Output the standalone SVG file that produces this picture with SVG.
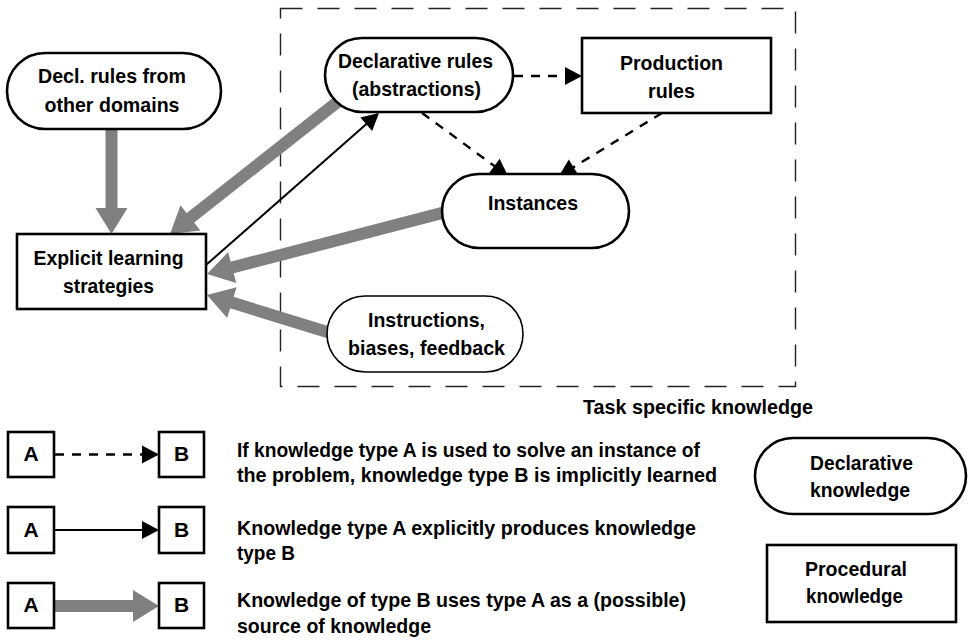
<svg xmlns="http://www.w3.org/2000/svg" width="968" height="640" viewBox="0 0 968 640">
<style>
  text{font-family:"Liberation Sans",Arial,sans-serif;font-weight:bold;font-size:21px;fill:#000;text-anchor:middle}
  .lt{text-anchor:start}
  .node{fill:#fff;stroke:#000;stroke-width:2.6}
  .thin{fill:#fff;stroke:#000;stroke-width:1.6}
  .frame{fill:none;stroke:#222;stroke-width:1.4;stroke-dasharray:22,15}
  .gray{fill:none;stroke:#808080;stroke-width:12}
  .solid{fill:none;stroke:#000;stroke-width:2}
  .dash{fill:none;stroke:#000;stroke-width:2.4;stroke-dasharray:9,8}
</style>
<defs>
  <marker id="gh" markerUnits="userSpaceOnUse" markerWidth="26" markerHeight="32" refX="12" refY="16" orient="auto" overflow="visible">
    <path d="M0,0 L26,16 L0,32 z" fill="#808080"/>
  </marker>
  <marker id="bh" markerUnits="userSpaceOnUse" markerWidth="17" markerHeight="18" refX="15" refY="9" orient="auto" overflow="visible">
    <path d="M0,0 L17,9 L0,18 z" fill="#000"/>
  </marker>
</defs>
<rect width="968" height="640" fill="#fff"/>

<rect id="task-frame" class="frame" x="280.5" y="8.5" width="515" height="378"/>
<text x="698" y="414" textLength="230" lengthAdjust="spacingAndGlyphs">Task specific knowledge</text>

<g id="connectors">
  <line class="gray" x1="111.5" y1="130" x2="111.5" y2="220" marker-end="url(#gh)"/>
  <line class="gray" x1="345" y1="96" x2="181" y2="225.3" marker-end="url(#gh)"/>
  <line class="gray" x1="452" y1="210.4" x2="220.6" y2="270.5" marker-end="url(#gh)"/>
  <line class="gray" x1="337" y1="335" x2="220.4" y2="299.1" marker-end="url(#gh)"/>
  <line class="solid" x1="206" y1="265" x2="377.5" y2="114.3" marker-end="url(#bh)"/>
  <line class="dash" x1="514" y1="76" x2="580" y2="76" marker-end="url(#bh)"/>
  <line class="dash" x1="422" y1="113" x2="506.4" y2="174.8" marker-end="url(#bh)"/>
  <line class="dash" x1="662" y1="113" x2="560.7" y2="175" marker-end="url(#bh)"/>
</g>

<g id="decl-other">
  <rect class="node" x="7" y="53" width="214" height="76" rx="38"/>
  <text x="112" y="83" textLength="148" lengthAdjust="spacingAndGlyphs">Decl. rules from</text>
  <text x="112" y="112" textLength="135" lengthAdjust="spacingAndGlyphs">other domains</text>
</g>
<g id="explicit">
  <rect class="node" x="17" y="234" width="189" height="75"/>
  <text x="108.5" y="265" textLength="150" lengthAdjust="spacingAndGlyphs">Explicit learning</text>
  <text x="108.5" y="293" textLength="91" lengthAdjust="spacingAndGlyphs">strategies</text>
</g>
<g id="decl-rules">
  <rect class="node" x="325" y="38" width="188" height="74" rx="37"/>
  <text x="415.5" y="68" textLength="155" lengthAdjust="spacingAndGlyphs">Declarative rules</text>
  <text x="416.5" y="96" textLength="129" lengthAdjust="spacingAndGlyphs">(abstractions)</text>
</g>
<g id="production">
  <rect class="node" x="582" y="38" width="189" height="75"/>
  <text x="671.5" y="70" textLength="103" lengthAdjust="spacingAndGlyphs">Production</text>
  <text x="671.5" y="98" textLength="47" lengthAdjust="spacingAndGlyphs">rules</text>
</g>
<g id="instances">
  <rect class="node" x="442" y="174" width="187" height="74" rx="37"/>
  <text x="533" y="210" textLength="90" lengthAdjust="spacingAndGlyphs">Instances</text>
</g>
<g id="instructions">
  <rect class="thin" x="327" y="296" width="196" height="76" rx="38"/>
  <text x="426.5" y="327" textLength="117" lengthAdjust="spacingAndGlyphs">Instructions,</text>
  <text x="426.5" y="355" textLength="157" lengthAdjust="spacingAndGlyphs">biases, feedback</text>
</g>

<g id="legend-implicit">
  <rect class="node" x="8" y="432" width="46" height="45"/>
  <text x="31" y="461">A</text>
  <line class="dash" x1="55" y1="454.5" x2="157" y2="454.5" marker-end="url(#bh)"/>
  <rect class="node" x="159" y="432" width="45" height="45"/>
  <text x="181.5" y="461">B</text>
  <text class="lt" x="237" y="457" textLength="463" lengthAdjust="spacingAndGlyphs">If knowledge type A is used to solve an instance of</text>
  <text class="lt" x="237" y="482" textLength="480" lengthAdjust="spacingAndGlyphs">the problem, knowledge type B is implicitly learned</text>
</g>
<g id="legend-explicit">
  <rect class="node" x="8" y="507" width="46" height="46"/>
  <text x="31" y="537">A</text>
  <line class="solid" x1="54" y1="530" x2="157" y2="530" marker-end="url(#bh)"/>
  <rect class="node" x="159" y="507" width="45" height="46"/>
  <text x="181.5" y="537">B</text>
  <text class="lt" x="237" y="535" textLength="459" lengthAdjust="spacingAndGlyphs">Knowledge type A explicitly produces knowledge</text>
  <text class="lt" x="237" y="560" textLength="58" lengthAdjust="spacingAndGlyphs">type B</text>
</g>
<g id="legend-source">
  <line class="gray" x1="54" y1="606" x2="145" y2="606" marker-end="url(#gh)"/>
  <rect class="node" x="8" y="583" width="46" height="45"/>
  <text x="31" y="612">A</text>
  <rect class="node" x="159" y="583" width="45" height="45"/>
  <text x="181.5" y="612">B</text>
  <text class="lt" x="237" y="607" textLength="449" lengthAdjust="spacingAndGlyphs">Knowledge of type B uses type A as a (possible)</text>
  <text class="lt" x="237" y="633" textLength="194" lengthAdjust="spacingAndGlyphs">source of knowledge</text>
</g>
<g id="legend-declarative">
  <rect class="node" x="755" y="438" width="211" height="76" rx="38"/>
  <text x="861.5" y="470" textLength="103" lengthAdjust="spacingAndGlyphs">Declarative</text>
  <text x="860" y="497" textLength="100" lengthAdjust="spacingAndGlyphs">knowledge</text>
</g>
<g id="legend-procedural">
  <rect class="node" x="767" y="545" width="189" height="77"/>
  <text x="856" y="576" textLength="102" lengthAdjust="spacingAndGlyphs">Procedural</text>
  <text x="854.5" y="603" textLength="97" lengthAdjust="spacingAndGlyphs">knowledge</text>
</g>
</svg>
